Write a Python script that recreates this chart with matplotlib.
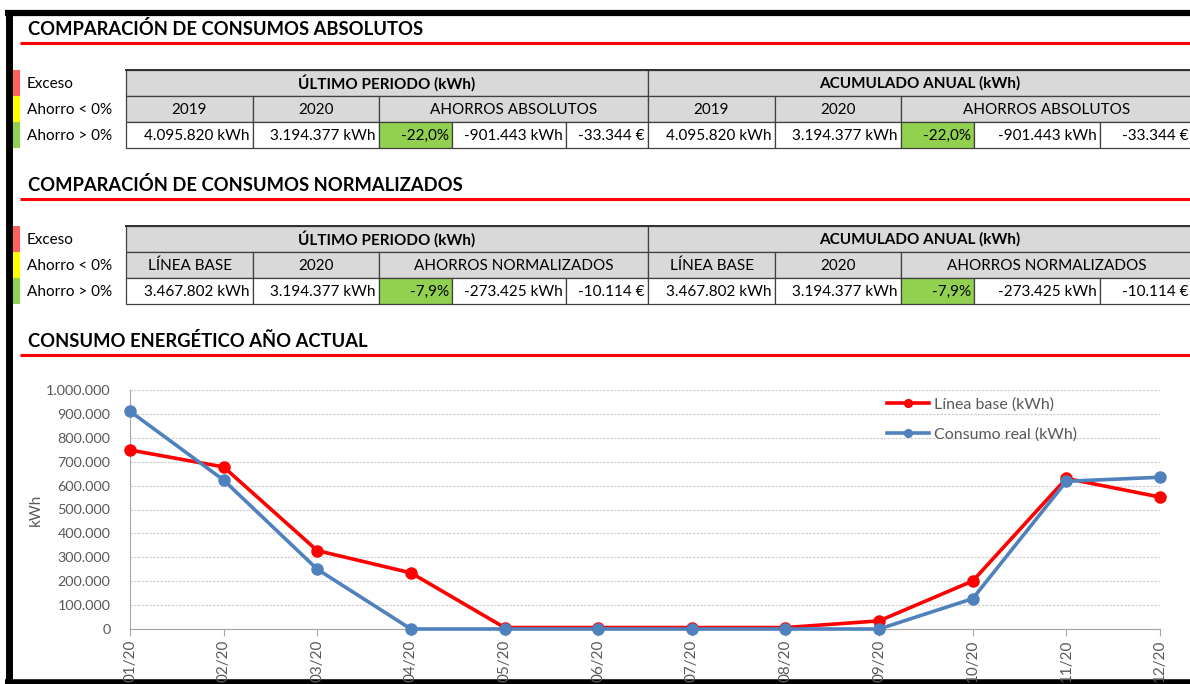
import matplotlib
matplotlib.use('Agg')
import matplotlib.pyplot as plt
from matplotlib.patches import Rectangle
from matplotlib.ticker import FuncFormatter, MultipleLocator

plt.rcParams['font.family'] = ['Lato', 'DejaVu Sans']

# datos
meses = ['01/20', '02/20', '03/20', '04/20', '05/20', '06/20',
         '07/20', '08/20', '09/20', '10/20', '11/20', '12/20']
linea_base = [749000, 678000, 328000, 235000, 6000, 6000,
              6000, 6000, 34000, 201000, 630000, 552000]
consumo_real = [911000, 623000, 250000, 0, 0, 0,
                0, 0, 0, 127000, 618000, 635000]

leyenda_txt = ['Exceso', 'Ahorro < 0%', 'Ahorro > 0%']
leyenda_col = ['#ff6161', '#ffff00', '#92d050']

abs_cab = ['2019', '2020', 'AHORROS ABSOLUTOS']
abs_val = ['4.095.820 kWh', '3.194.377 kWh', '-22,0%', '-901.443 kWh', '-33.344 €']
norm_cab = ['LÍNEA BASE', '2020', 'AHORROS NORMALIZADOS']
norm_val = ['3.467.802 kWh', '3.194.377 kWh', '-7,9%', '-273.425 kWh', '-10.114 €']

W, H = 1190, 684
fig = plt.figure(figsize=(W / 100, H / 100), dpi=100)
bg = fig.add_axes([0, 0, 1, 1])
bg.set_xlim(0, W)
bg.set_ylim(H, 0)
bg.axis('off')

# marco negro
bg.plot([5, W], [13, 13], color='black', lw=4.5, solid_capstyle='butt')
bg.plot([8.5, 8.5], [10, H], color='black', lw=5, solid_capstyle='butt')
bg.plot([5, W], [682, 682], color='black', lw=4, solid_capstyle='butt')


def titulo(txt, y):
    bg.text(28, y, txt, fontsize=13.2, fontweight='bold', va='center', ha='left', color='black')
    bg.plot([20, W], [y + 14, y + 14], color='#ff0000', lw=2.2, solid_capstyle='butt')


def leyenda(y0):
    for i, (t, c) in enumerate(zip(leyenda_txt, leyenda_col)):
        bg.add_patch(Rectangle((13, y0 + 26 * i), 7, 26, color=c, lw=0))
        bg.text(27, y0 + 26 * i + 13.5, t, fontsize=11, va='center', ha='left')


cols = [126, 253, 379, 452, 566, 648, 775, 901, 974, 1100, 1192]
gris = '#d9d9d9'
borde = '#404040'


def tabla(y0, cab, val):
    rh = 26
    # fila 1
    for x0, x1, t in [(126, 648, 'ÚLTIMO PERIODO (kWh)'), (648, 1192, 'ACUMULADO ANUAL (kWh)')]:
        bg.add_patch(Rectangle((x0, y0), x1 - x0, rh, facecolor=gris, edgecolor=borde, lw=0.9))
        bg.text((x0 + x1) / 2, y0 + rh / 2 + 0.5, t, fontsize=11, fontweight='bold', ha='center', va='center')
    # fila 2
    for k in range(2):
        c = cols[k * 5:k * 5 + 6]
        spans = [(c[0], c[1]), (c[1], c[2]), (c[2], c[5])]
        for (x0, x1), t in zip(spans, cab):
            bg.add_patch(Rectangle((x0, y0 + rh), x1 - x0, rh, facecolor=gris, edgecolor=borde, lw=0.9))
            bg.text((x0 + x1) / 2, y0 + rh * 1.5 + 0.5, t, fontsize=11, ha='center', va='center')
        # fila de datos
        for j, t in enumerate(val):
            x0, x1 = c[j], c[j + 1]
            fc = '#92d050' if j == 2 else 'white'
            bg.add_patch(Rectangle((x0, y0 + 2 * rh), x1 - x0, rh, facecolor=fc, edgecolor=borde, lw=0.9))
            bg.text(x1 - 3, y0 + rh * 2.5 + 0.5, t, fontsize=11, ha='right', va='center')
    bg.plot([126, 1192], [y0, y0], color='#303030', lw=1.4)


titulo('COMPARACIÓN DE CONSUMOS ABSOLUTOS', 29)
leyenda(70)
tabla(70, abs_cab, abs_val)

titulo('COMPARACIÓN DE CONSUMOS NORMALIZADOS', 185)
leyenda(226)
tabla(226, norm_cab, norm_val)

titulo('CONSUMO ENERGÉTICO AÑO ACTUAL', 341)

# grafico
x0, x1, ytop, ybot = 130, 1160, 390, 629
ax = fig.add_axes([x0 / W, (H - ybot) / H, (x1 - x0) / W, (ybot - ytop) / H])
ax.patch.set_alpha(0)
xs = list(range(len(meses)))
ax.plot(xs, linea_base, color='#ff0000', lw=2.6, marker='o', ms=8, label='Línea base (kWh)', clip_on=False, zorder=3)
ax.plot(xs, consumo_real, color='#4f81bd', lw=2.6, marker='o', ms=8, label='Consumo real (kWh)', clip_on=False, zorder=4)
ax.set_xlim(0, 11)
ax.set_ylim(0, 1000000)
ax.yaxis.set_major_locator(MultipleLocator(100000))
ax.yaxis.set_major_formatter(FuncFormatter(lambda v, p: f'{int(v):,}'.replace(',', '.')))
ax.set_xticks(xs)
ax.set_xticklabels(meses, rotation=90, va='top')
ax.grid(axis='y', color='#d0d0d0', lw=0.9, linestyle=(0, (2, 1)))
ax.set_axisbelow(True)
for s in ['top', 'right']:
    ax.spines[s].set_visible(False)
for s in ['left', 'bottom']:
    ax.spines[s].set_color('#a6a6a6')
ax.tick_params(axis='y', length=0, labelsize=10.4, labelcolor='#595959', pad=14)
ax.tick_params(axis='x', length=5, color='#a6a6a6', labelsize=11, labelcolor='#595959', pad=3)
ax.set_ylabel('kWh', fontsize=11, color='#595959', labelpad=2)
ax.legend(loc='upper left', bbox_to_anchor=(873 / W, 1 - 383 / H), bbox_transform=fig.transFigure,
          frameon=False, fontsize=11.5, labelcolor='#595959', handlelength=2.6, markerscale=0.7,
          labelspacing=0.95, handletextpad=0.3)

fig.savefig('out.png', dpi=100)
